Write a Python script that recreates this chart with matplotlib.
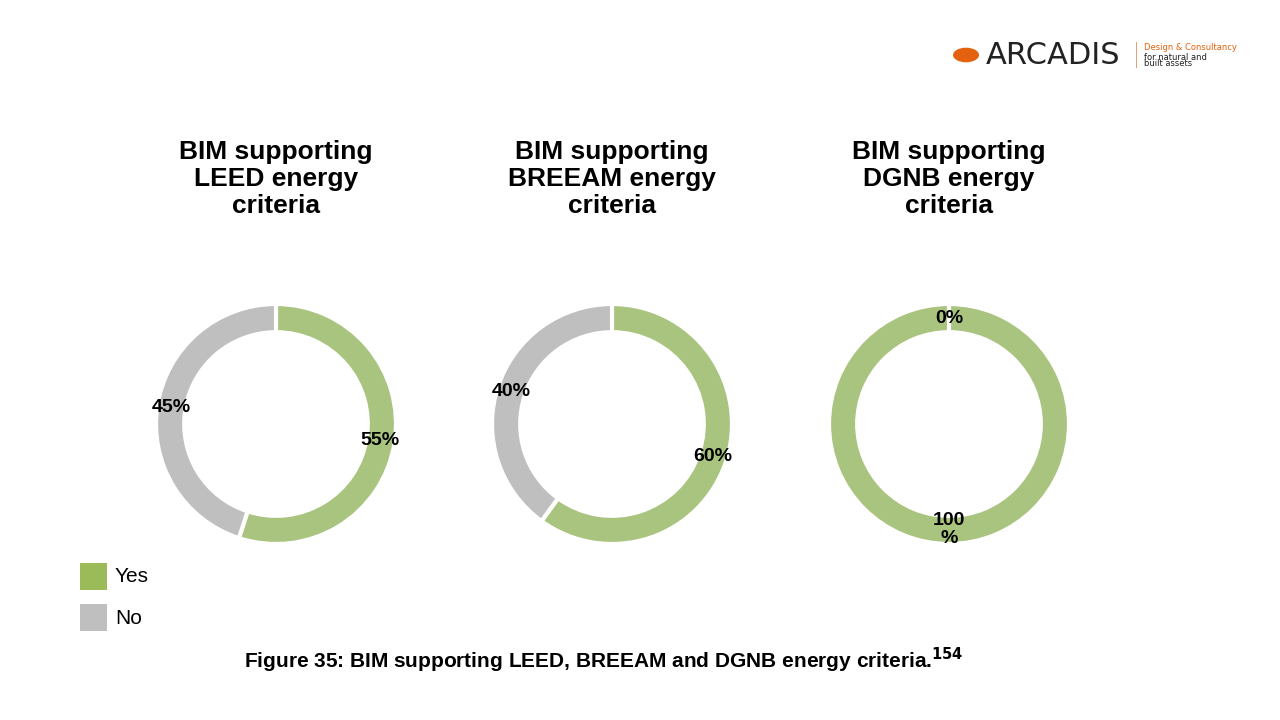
import matplotlib
matplotlib.use("Agg")
import matplotlib.pyplot as plt
from matplotlib.patches import Rectangle, Circle

titles = ["BIM supporting\nLEED energy\ncriteria", "BIM supporting\nBREEAM energy\ncriteria", "BIM supporting\nDGNB energy\ncriteria"]
yes_vals = [55, 60, 100]
no_vals = [45, 40, 0]
labels_yes = ["55%", "60%", "100\n%"]
labels_no = ["45%", "40%", "0%"]
categories = ["Yes", "No"]
colors = ["#A9C47F", "#BFBFBF"]
legend_colors = ["#9BBB59", "#BFBFBF"]

fig = plt.figure(figsize=(12.8, 7.2), dpi=100)
W, H = 1280, 720
centers = [276, 612, 949]
cy = 424
R = 120
for i, cx in enumerate(centers):
    ax = fig.add_axes([(cx - R) / W, (H - cy - R) / H, 2 * R / W, 2 * R / H])
    wedges, _ = ax.pie([yes_vals[i], no_vals[i]], colors=colors, startangle=90, counterclock=False,
                       radius=1.0, wedgeprops=dict(width=0.235, edgecolor="white", linewidth=3))
    import numpy as np
    tot = yes_vals[i] + no_vals[i]
    for val, start, lab in [(yes_vals[i], 0, labels_yes[i]), (no_vals[i], yes_vals[i], labels_no[i])]:
        mid = np.deg2rad(90 - 360 * (start + val / 2) / tot)
        r = 0.88
        ax.text(r * np.cos(mid), r * np.sin(mid), lab, ha="center", va="center",
                fontsize=14, fontweight="bold", family="Liberation Sans", linespacing=1.1)
    ax.set_xlim(-1, 1); ax.set_ylim(-1, 1)
    ax.set_aspect("equal"); ax.axis("off")
    fig.text(cx / W, 1 - 140 / H, titles[i], ha="center", va="top", fontsize=19, fontweight="bold",
             family="Liberation Sans", linespacing=1.15)

# legend
for j, (cat, c) in enumerate(zip(categories, legend_colors)):
    y = 577 + j * 41
    fig.patches.append(Rectangle((80 / W, 1 - (y + 13) / H), 27 / W, 27 / H, transform=fig.transFigure,
                                 facecolor=c, edgecolor="none"))
    fig.text(115 / W, 1 - y / H, cat, ha="left", va="center", fontsize=15, family="Liberation Sans")

fig.text(604 / W, 1 - 660 / H, "Figure 35: BIM supporting LEED, BREEAM and DGNB energy criteria.$^{\\mathbf{154}}$",
         ha="center", va="center", fontsize=15, fontweight="bold", family="Liberation Sans")

# logo
fig.patches.append(Circle((966 / W, 1 - 55 / H), 13 / W, transform=fig.transFigure, facecolor="#E4610F"))
fig.text(986 / W, 1 - 56 / H, "ARCADIS", ha="left", va="center", fontsize=22, color="#222222", family="DejaVu Sans")
fig.patches.append(Rectangle((1136 / W, 1 - 68 / H), 1 / W, 26 / H, transform=fig.transFigure, facecolor="#E4A070"))
fig.text(1144 / W, 1 - 48 / H, "Design & Consultancy", fontsize=6, color="#E4610F", va="center")
fig.text(1144 / W, 1 - 57 / H, "for natural and", fontsize=6, color="#222222", va="center")
fig.text(1144 / W, 1 - 64 / H, "built assets", fontsize=6, color="#222222", va="center")

fig.savefig("out.png", dpi=100, facecolor="white")
